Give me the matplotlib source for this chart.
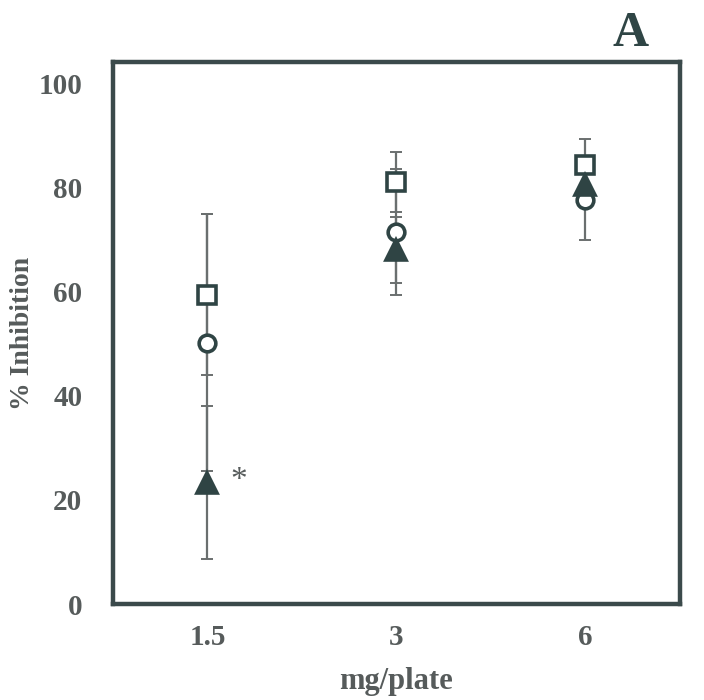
import matplotlib
matplotlib.use("Agg")
import matplotlib.pyplot as plt
import numpy as np

# data
doses = ["1.5", "3", "6"]
square_vals = [59.4, 81.0, 84.2]
square_err = [15.4, 5.7, 5.0]
circle_vals = [50.2, 71.5, 77.5]
circle_err = [24.6, 12.1, 7.7]
triangle_vals = [23.3, 68.0, 80.4]
triangle_err = [14.7, 6.3, 4.0]
yticks = [0, 20, 40, 60, 80, 100]

FRAME = "#3b4a4b"
MARK = "#2f4444"
TEXT = "#565b5b"
BAR = "#6a6f6f"

plt.rcParams["font.family"] = ["Liberation Serif", "DejaVu Serif"]
plt.rcParams["font.weight"] = "bold"

fig = plt.figure(figsize=(7.04, 7.00), dpi=100)
ax = fig.add_axes([0.1605, 0.137, 0.8054, 0.774])

x = np.arange(1, len(doses) + 1)

series = [
    (square_vals, square_err, "s", 13, "white"),
    (circle_vals, circle_err, "o", 12, "white"),
    (triangle_vals, triangle_err, "^", 14, MARK),
]

# error bars first, markers on top
for vals, err, m, ms, fc in series:
    ax.errorbar(x, vals, yerr=err, fmt="none", ecolor=BAR, elinewidth=1.6,
                capsize=4, capthick=1.4, zorder=2)
for vals, err, m, ms, fc in series:
    ax.plot(x, vals, linestyle="none", marker=m, markersize=ms,
            markerfacecolor=fc, markeredgecolor=MARK, markeredgewidth=2.6,
            zorder=3)

# significance mark next to the low triangle
ax.text(x[0] + 0.12, triangle_vals[0] + 0.3, "*", color=TEXT, fontsize=24,
        fontweight="normal", ha="left", va="center")

ax.set_xlim(0.5, 3.5)
ax.set_ylim(0, 104)
ax.set_xticks(x)
ax.set_xticklabels(doses)
ax.set_yticks(yticks)
ax.tick_params(axis="both", length=0, labelsize=21, colors=TEXT)
ax.tick_params(axis="x", pad=14)
ax.tick_params(axis="y", pad=22)

for spine in ax.spines.values():
    spine.set_color(FRAME)
    spine.set_linewidth(3.2)

ax.set_xlabel("mg/plate", fontsize=22, color=TEXT, fontweight="bold")
ax.set_ylabel("% Inhibition", fontsize=20, color=TEXT, fontweight="bold")
ax.xaxis.set_label_coords(0.5, -0.116)
ax.yaxis.set_label_coords(-0.137, 0.5)

fig.text(0.895, 0.952, "A", fontsize=36, fontweight="bold", color="#2f4545",
         ha="center", va="center")

fig.savefig("out.png", dpi=100, facecolor="white")
